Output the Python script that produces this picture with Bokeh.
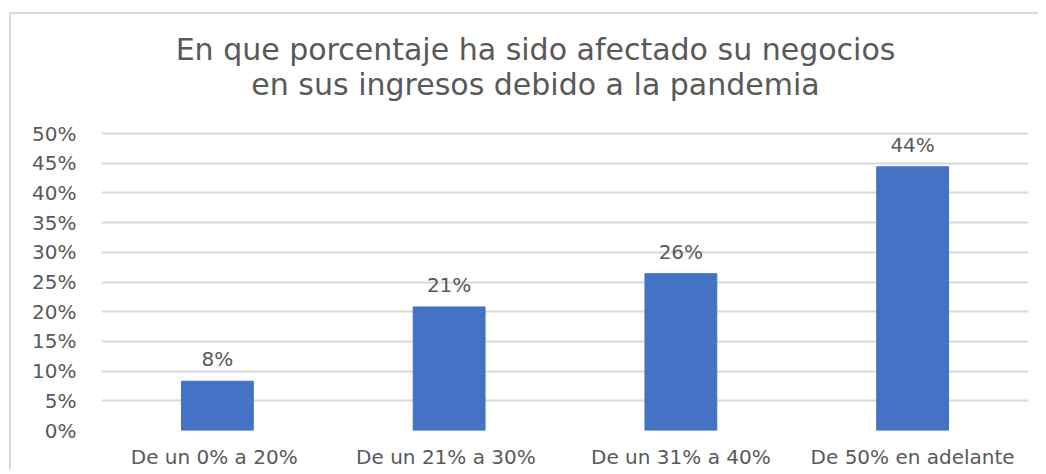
from bokeh.plotting import figure
from bokeh.models import (ColumnDataSource, NumeralTickFormatter, FixedTicker,
                          Range1d, Label)
from bokeh.core.properties import value
from bokeh.embed import file_html
from bokeh.resources import INLINE

# ---- data ----
categories = ["De un 0% a  20%", "De un 21% a  30%", "De un 31% a 40%", "De 50% en adelante"]
shares = [0.083, 0.208, 0.264, 0.444]
share_labels = ["8%", "21%", "26%", "44%"]
y_ticks = [0.0, 0.05, 0.10, 0.15, 0.20, 0.25, 0.30, 0.35, 0.40, 0.45, 0.50]
title_lines = ["En que porcentaje ha sido afectado su negocios",
               "en sus ingresos debido a la pandemia"]

FONT = "DejaVu Sans"
TXT = "#595959"
GRID = "#d9d9d9"
BAR = "#4472C4"

# ---- layout (pixels, page coords) ----
ORIG_X, ORIG_Y = 11, 14          # figure origin after margin + css border
FRAME_L, FRAME_R = 101, 1028
FRAME_TOP_50, FRAME_B = 133, 430  # y of 50% gridline and of 0%
W, H = 1029, 458
px_per_unit = (FRAME_B - FRAME_TOP_50) / 0.5
y_end = 0.5 + (FRAME_TOP_50 - ORIG_Y) / px_per_unit

src = ColumnDataSource(dict(cat=categories, val=shares, lab=share_labels))

p = figure(x_range=categories, y_range=Range1d(0, y_end), width=W, height=H,
           output_backend="svg", toolbar_location=None,
           min_border_left=FRAME_L - ORIG_X, min_border_right=ORIG_X + W - FRAME_R,
           min_border_top=0, min_border_bottom=ORIG_Y + H - FRAME_B)
p.margin = (12, 0, 0, 9)
p.styles = {"border-left": f"2px solid {GRID}", "border-top": f"2px solid {GRID}"}
p.outline_line_color = None
p.background_fill_color = "white"
p.border_fill_color = "white"

p.vbar(x="cat", top="val", width=0.31, source=src, color=BAR)
p.text(x="cat", y="val", text="lab", source=src, text_align="center",
       text_baseline="alphabetic", y_offset=-22, text_font=value(FONT),
       text_font_size="20px", text_color=TXT)

p.yaxis.ticker = FixedTicker(ticks=y_ticks)
p.yaxis.formatter = NumeralTickFormatter(format="0%")
for ax in (p.xaxis[0], p.yaxis[0]):
    ax.axis_line_color = None
    ax.major_tick_line_color = None
    ax.minor_tick_line_color = None
    ax.major_label_text_font = FONT
    ax.major_label_text_color = TXT
p.yaxis.major_label_text_font_size = "20px"
p.xaxis.major_label_text_font_size = "20px"
p.yaxis.major_label_standoff = 19
p.xaxis.major_label_standoff = 8

p.xgrid.grid_line_color = None
p.ygrid.grid_line_color = GRID
p.ygrid.grid_line_width = 2

# title: two centred lines, centred at page x 535
n = len(categories)
title_x = (535 - FRAME_L) / (FRAME_R - FRAME_L) * n
for line, base_y in zip(title_lines, [49, 84]):
    p.add_layout(Label(x=title_x, y=0.5 + (FRAME_TOP_50 - base_y) / px_per_unit,
                       text=line, text_align="center", text_baseline="alphabetic",
                       text_font=FONT, text_font_size="30px", text_color=TXT))

open("out.html", "w").write(file_html(p, INLINE))
